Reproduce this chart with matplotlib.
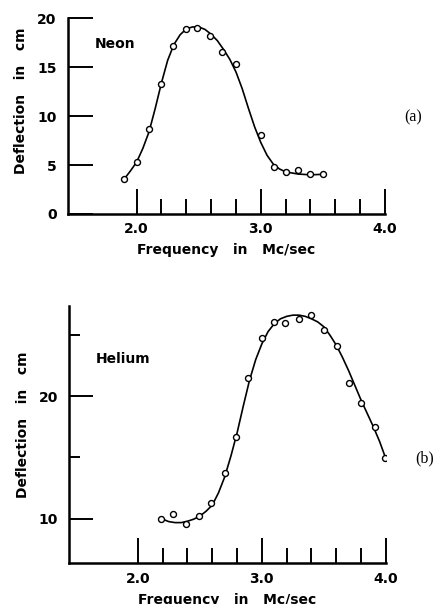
import matplotlib
matplotlib.use('Agg')
import matplotlib.pyplot as plt
import numpy as np

# Neon: measured points
neon_freq = [1.90, 2.00, 2.10, 2.20, 2.29, 2.40, 2.49, 2.59, 2.69, 2.80,
             3.00, 3.11, 3.20, 3.30, 3.40, 3.50]
neon_defl = [3.57, 5.3, 8.64, 13.3, 17.2, 18.9, 19.0, 18.2, 16.5, 15.3,
             8.1, 4.76, 4.25, 4.5, 4.08, 4.08]
# Neon: drawn smooth curve
neon_curve_f = [1.90, 1.95, 2.00, 2.05, 2.10, 2.15, 2.20, 2.25, 2.30, 2.35,
                2.40, 2.45, 2.50, 2.55, 2.60, 2.65, 2.70, 2.75, 2.80, 2.85,
                2.90, 2.95, 3.00, 3.05, 3.10, 3.15, 3.20, 3.30, 3.40, 3.50]
neon_curve_d = [3.57, 4.4, 5.3, 6.7, 8.4, 10.8, 13.4, 15.7, 17.3, 18.3,
                18.9, 19.1, 19.1, 18.85, 18.35, 17.7, 16.8, 15.8, 14.5, 12.8,
                10.8, 8.9, 7.3, 6.0, 5.1, 4.6, 4.3, 4.08, 4.0, 4.05]

# Helium: measured points
helium_freq = [2.19, 2.28, 2.39, 2.49, 2.59, 2.70, 2.79, 2.89, 3.00, 3.10,
               3.19, 3.30, 3.40, 3.50, 3.61, 3.70, 3.80, 3.91, 3.99]
helium_defl = [10.0, 10.4, 9.56, 10.2, 11.26, 13.7, 16.67, 21.5, 24.75, 26.1,
               26.0, 26.3, 26.64, 25.46, 24.15, 21.1, 19.5, 17.5, 14.97]
# Helium: drawn smooth curve
helium_curve_f = [2.20, 2.25, 2.30, 2.35, 2.40, 2.45, 2.50, 2.55, 2.60, 2.65,
                  2.70, 2.75, 2.80, 2.85, 2.90, 2.95, 3.00, 3.05, 3.10, 3.15,
                  3.20, 3.25, 3.30, 3.35, 3.40, 3.45, 3.50, 3.55, 3.60, 3.65,
                  3.70, 3.75, 3.80, 3.85, 3.90, 3.95, 4.00]
helium_curve_d = [9.95, 9.75, 9.67, 9.67, 9.78, 9.95, 10.2, 10.6, 11.1, 12.1,
                  13.4, 15.1, 17.0, 19.2, 21.3, 23.0, 24.3, 25.3, 25.95, 26.35,
                  26.55, 26.65, 26.65, 26.55, 26.35, 26.1, 25.7, 25.0, 24.2, 23.2,
                  22.1, 20.9, 19.7, 18.6, 17.5, 16.3, 14.9]

x_major = [2.0, 3.0, 4.0]
x_minor = [2.2, 2.4, 2.6, 2.8, 3.2, 3.4, 3.6, 3.8]

FONT = dict(family='DejaVu Sans', fontweight='bold', fontsize=10)
LW = 1.8


def style_axes(ax):
    for s in ['top', 'right']:
        ax.spines[s].set_visible(False)
    for s in ['left', 'bottom']:
        ax.spines[s].set_linewidth(LW)
    ax.set_xlim(1.446, 4.0)
    ax.set_xticks(x_major)
    ax.set_xticks(x_minor, minor=True)
    ax.set_xticklabels(['2.0', '3.0', '4.0'], **FONT)
    ax.tick_params(axis='x', which='major', direction='in', length=18, width=1.4, pad=6)
    ax.tick_params(axis='x', which='minor', direction='in', length=11, width=1.4)
    ax.set_xlabel('Frequency   in   Mc/sec', labelpad=5, **FONT)
    ax.set_ylabel('Deflection   in   cm', labelpad=7, **FONT)


fig = plt.figure(figsize=(4.35, 6.04), dpi=100)

# (a) Neon
ax1 = fig.add_axes([0.156, 0.6457, 0.729, 0.3243])
ax1.plot(neon_curve_f, neon_curve_d, color='black', lw=1.2)
ax1.plot(neon_freq, neon_defl, 'o', ms=4.3, mfc='white', mec='black', mew=1.0)
style_axes(ax1)
ax1.set_ylim(0, 20)
ax1.set_yticks([0, 5, 10, 15, 20])
ax1.set_yticklabels(['0', '5', '10', '15', '20'], **FONT)
ax1.tick_params(axis='y', which='major', direction='in', length=18, width=1.4, pad=8)
ax1.yaxis.set_label_coords(-0.125, 0.58)
ax1.text(1.66, 17.4, 'Neon', ha='left', va='center', **FONT)

# (b) Helium
ax2 = fig.add_axes([0.159, 0.0674, 0.728, 0.426])
ax2.plot(helium_curve_f, helium_curve_d, color='black', lw=1.2)
ax2.plot(helium_freq, helium_defl, 'o', ms=4.3, mfc='white', mec='black', mew=1.0)
style_axes(ax2)
ax2.set_ylim(6.34, 27.4)
ax2.set_yticks([10, 20])
ax2.set_yticks([15, 25], minor=True)
ax2.set_yticklabels(['10', '20'], **FONT)
ax2.tick_params(axis='y', which='major', direction='in', length=17, width=1.4, pad=8)
ax2.tick_params(axis='y', which='minor', direction='in', length=8, width=1.4)
ax2.yaxis.set_label_coords(-0.125, 0.54)
ax2.text(1.66, 23.1, 'Helium', ha='left', va='center', **FONT)

fig.text(404 / 435, 1 - 117 / 604, '(a)', family='Liberation Serif', fontsize=11.5,
         ha='left', va='center')
fig.text(415 / 435, 1 - 458 / 604, '(b)', family='Liberation Serif', fontsize=11.5,
         ha='left', va='center')

fig.savefig('out.png', dpi=100)
